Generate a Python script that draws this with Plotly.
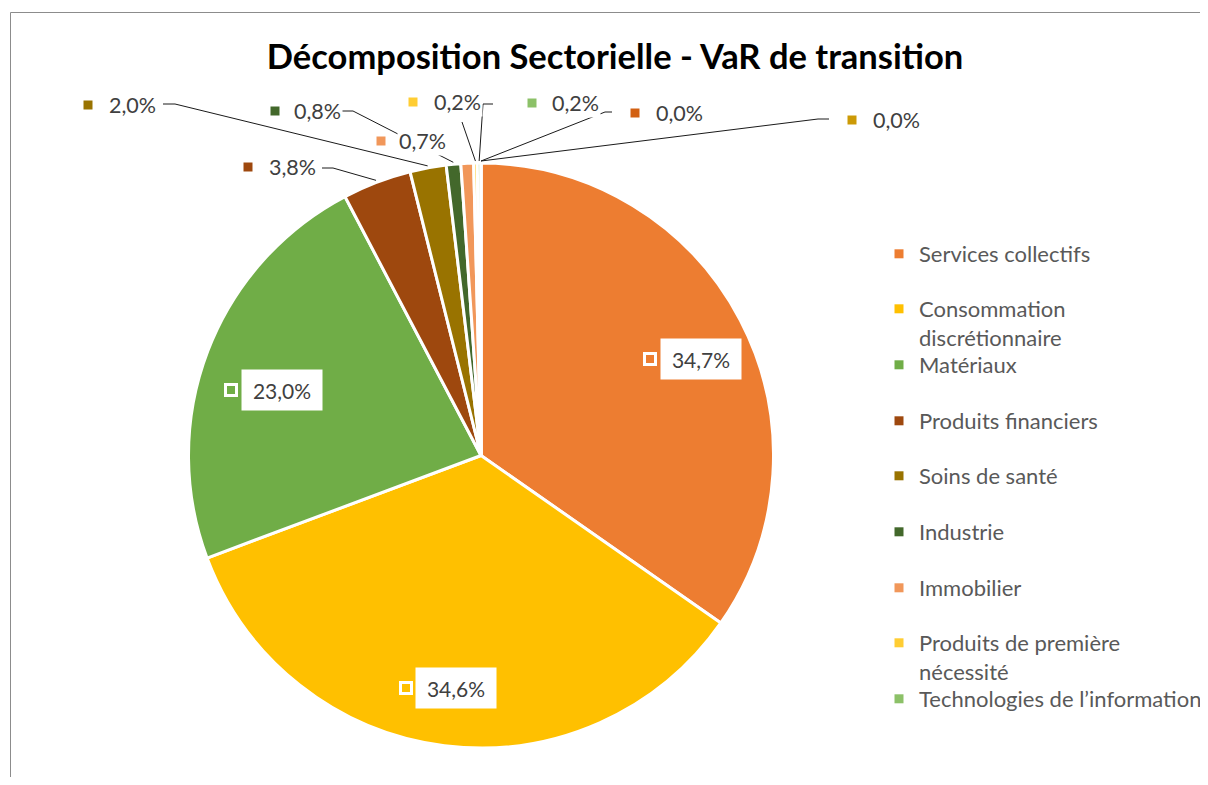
import math
import plotly.graph_objects as go

# ---------------- data ----------------
categories = ["Services collectifs", "Consommation discrétionnaire", "Matériaux",
              "Produits financiers", "Soins de santé", "Industrie", "Immobilier",
              "Produits de première nécessité", "Technologies de l’information",
              "Énergie", "Services de communication"]
values = [34.7, 34.6, 23.0, 3.8, 2.0, 0.8, 0.7, 0.2, 0.2, 0.0, 0.0]
legend_labels = ["Services collectifs", "Consommation<br>discrétionnaire", "Matériaux",
                 "Produits financiers", "Soins de santé", "Industrie", "Immobilier",
                 "Produits de première<br>nécessité", "Technologies de l’information"]
colors = ["#ED7D31", "#FFC000", "#70AD47", "#9E480E", "#997300", "#43682B",
          "#F1975A", "#FFCD33", "#8CC168", "#D26012", "#CC9A06"]
title_text = "Décomposition Sectorielle - VaR de transition"

# ---------------- layout geometry (screen pixels) ----------------
PAGE_W, PAGE_H = 1208, 785
OFF = 8  # page body margin
W, H = PAGE_W - OFF, PAGE_H - 2 * OFF   # keep the page free of scrollbars
CX, CY, R = 481, 455.5, 292.5
FONT = "Lato"
TXT = "#404040"

def xp(px):
    return (px - OFF) / W

def yp(py):
    return 1 - (py - OFF) / H

def fmt(v):
    return f"{v:.1f}".replace(".", ",") + "%"

total = sum(values)

def edge_point(i, extra=2):
    start = sum(values[:i])
    mid = (start + values[i] / 2) / total
    a = 2 * math.pi * mid
    return CX + (R + extra) * math.sin(a), CY - (R + extra) * math.cos(a)

# inner labels: centre of white box, centre of legend key square
inner_labels = {0: ((701, 359), (650, 359)),
                1: ((455.5, 688), (406, 688)),
                2: ((281.5, 390), (231, 390))}
# outer labels: key square centre, text left x, text y, leader path points (before edge)
outer_labels = {
    3: dict(sq=(248, 167), tx=267, ty=167, path=[(322, 168), (333, 168)]),
    4: dict(sq=(88, 105), tx=107, ty=105, path=[(163, 104), (175, 104)]),
    5: dict(sq=(275, 111), tx=292, ty=111, path=[(342, 111), (353, 111)]),
    6: dict(sq=(381, 141), tx=397, ty=141, path=None),
    7: dict(sq=(413, 102), tx=432, ty=102, path=[(462, 122)]),
    8: dict(sq=(532, 103), tx=550, ty=103, path=[(493, 104), (483, 104)]),
    9: dict(sq=(635, 113), tx=654, ty=113, path=[(612, 112), (605, 112)]),
    10: dict(sq=(852, 120), tx=871, ty=120, path=[(829, 119), (818, 119)]),
}
legend_rows = [253, 308, 364, 420, 475, 531, 587, 642, 698]
LEG_TEXT_X = 919

fig = go.Figure()

fig.add_trace(go.Pie(
    labels=categories, values=values, sort=False, direction="clockwise", rotation=0,
    marker=dict(colors=colors, line=dict(color="white", width=3)),
    textinfo="none", hoverinfo="label+percent", showlegend=False,
    domain=dict(x=[xp(CX - R), xp(CX + R)], y=[yp(CY + R), yp(CY - R)]),
))

# legend entries (one legend box per entry so rows keep Excel's fixed spacing)
legends = {}
for i, name in enumerate(legend_labels):
    key = "legend" if i == 0 else f"legend{i + 1}"
    fig.add_trace(go.Scatter(
        x=[None], y=[None], mode="markers", name=name, legend=key,
        marker=dict(symbol="square", size=9, color=colors[i]),
        xaxis="x", yaxis="y", hoverinfo="skip",
    ))
    legends[key] = dict(
        x=xp(LEG_TEXT_X - 40), y=yp(legend_rows[i] - 20), xanchor="left", yanchor="top",
        bgcolor="rgba(0,0,0,0)", borderwidth=0, valign="top", itemwidth=30,
        font=dict(family=FONT, size=22, color="#595959"), tracegroupgap=0,
    )

shapes = []
annotations = []

# chart border: only the left and top edges are visible in the page
for x0, y0, x1, y1 in [(10.5, 12.5, 10.5, OFF + H), (10.5, 12.5, OFF + W, 12.5)]:
    shapes.append(dict(type="line", xref="x", yref="y", x0=x0, y0=y0, x1=x1, y1=y1,
                       line=dict(color="#8C8C8C", width=1), layer="below"))

# inner labels
for i, ((bx, by), (sx, sy)) in inner_labels.items():
    shapes.append(dict(type="rect", xref="x", yref="y", x0=sx - 5.5, x1=sx + 5.5,
                       y0=sy - 5.5, y1=sy + 5.5, fillcolor=colors[i],
                       line=dict(color="white", width=3), layer="above"))
    annotations.append(dict(x=bx, y=by, xref="x", yref="y", text=fmt(values[i]),
                            showarrow=False, bgcolor="white", width=78, height=38,
                            font=dict(family=FONT, size=21, color=TXT),
                            xanchor="center", yanchor="middle"))

# outer labels with leader lines
for i, d in outer_labels.items():
    if d["path"]:
        pts = d["path"] + [edge_point(i)]
        path = "M " + " L ".join(f"{x},{y}" for x, y in pts)
        shapes.append(dict(type="path", xref="x", yref="y", path=path,
                           line=dict(color="#1a1a1a", width=1), layer="above"))
    sx, sy = d["sq"]
    shapes.append(dict(type="rect", xref="x", yref="y", x0=sx - 4.5, x1=sx + 4.5,
                       y0=sy - 4.5, y1=sy + 4.5, fillcolor=colors[i],
                       line=dict(width=0), layer="above"))
    annotations.append(dict(x=d["tx"], y=d["ty"], xref="x", yref="y", text=fmt(values[i]),
                            showarrow=False, bgcolor="white", borderpad=1,
                            font=dict(family=FONT, size=21.5, color=TXT),
                            xanchor="left", yanchor="middle"))

fig.update_layout(
    width=W, height=H, margin=dict(l=0, r=0, t=0, b=0, pad=0, autoexpand=False),
    paper_bgcolor="white", plot_bgcolor="white",
    title=dict(text=f"<b>{title_text}</b>", x=xp(615), y=yp(57),
               xanchor="center", yanchor="middle",
               font=dict(family=FONT, size=34.5, color="black")),
    xaxis=dict(range=[OFF, OFF + W], domain=[0, 1], visible=False, fixedrange=True),
    yaxis=dict(range=[OFF + H, OFF], domain=[0, 1], visible=False, fixedrange=True),
    shapes=shapes, annotations=annotations,
    **legends,
)

fig.write_html("out.html")
